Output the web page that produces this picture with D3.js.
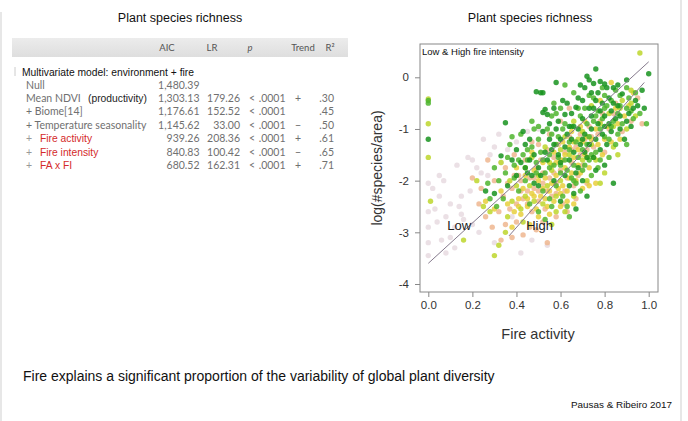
<!DOCTYPE html>
<html><head><meta charset="utf-8">
<script src="https://cdn.jsdelivr.net/npm/d3@7"></script>
<style>body{margin:0;background:#fff}svg{display:block}</style>
</head><body>
<script>
// ---------------- DATA ----------------
const panelTitles = ["Plant species richness", "Plant species richness"];
const tableHeader = ["AIC", "LR", "p", "Trend", "R²"];
const tableSubtitle = "Multivariate model: environment + fire";
const rowPrefix = ["", "", "+ ", "+ ", "+ ", "+ ", "+ "];
const rowLabels = ["Null", "Mean NDVI", "Biome[14]", "Temperature seasonality", "Fire activity", "Fire intensity", "FA x FI"];
const rowIsFire = [false, false, false, false, true, true, true];
const aicValues = ["1,480.39", "1,303.13", "1,176.61", "1,145.62", "939.26", "840.83", "680.52"];
const lrValues = ["", "179.26", "152.52", "33.00", "208.36", "100.42", "162.31"];
const pValues = ["", ".0001", ".0001", ".0001", ".0001", ".0001", ".0001"];
const trendValues = ["", "+", "", "−", "+", "−", "+"];
const r2Values = ["", ".30", ".45", ".50", ".61", ".65", ".71"];
const ndviNote = "(productivity)";

const xTicks = [0, 0.2, 0.4, 0.6, 0.8, 1.0];
const yTicks = [-4, -3, -2, -1, 0];
const xLabel = "Fire activity";
const yLabel = "log(#species/area)";
const plotTitle = "Low & High fire intensity";
const footnote = "Fire explains a significant proportion of the variability of global plant diversity";
const source = "Pausas & Ribeiro 2017";

// regression lines [x1,y1,x2,y2]
const lowLine = [0.0, -3.6, 1.0, 0.3];
const highLine = [0.366, -3.07, 0.98, -0.1];
const lineLabels = [{t:"Low", x:0.14, y:-2.85}, {t:"High", x:0.505, y:-2.85}];

// points [fire activity, log richness] by colour group
const palePts = [[0.0,-2.05],[0.0,-2.9],[0.0,-3.2],[0.0,-3.45],[0.0,-2.6],[0.02,-2.15],[0.03,-2.55],[0.04,-2.8],[0.06,-3.15],[0.05,-2.3],[0.08,-2.7],[0.1,-2.45],[0.12,-2.9],[0.14,-2.5],[0.15,-2.65],[0.16,-2.75],[0.18,-1.55],[0.2,-1.6],[0.22,-1.75],[0.19,-2.2],[0.24,-1.85],[0.25,-1.2],[0.28,-1.5],[0.3,-1.35],[0.33,-1.65],[0.36,-1.4],[0.15,-2.3],[0.12,-3.3],[0.1,-3.1],[0.08,-3.4],[0.42,-3.4],[0.27,-1.9],[0.2,-2.85],[0.05,-1.9],[0.4,-1.25],[0.45,-1.05],[0.5,-1.0],[0.23,-3.0],[0.3,-3.2],[0.13,-1.7],[0.32,-1.1],[0.38,-2.7],[0.47,-3.15],[0.54,-3.25],[0.07,-2.0]];
const salmonPts = [[0.2,-1.95],[0.24,-2.15],[0.27,-1.6],[0.3,-2.0],[0.32,-2.6],[0.34,-2.3],[0.35,-1.75],[0.37,-2.55],[0.38,-2.15],[0.39,-1.5],[0.4,-2.45],[0.41,-1.9],[0.42,-2.0],[0.43,-2.35],[0.44,-1.6],[0.45,-2.2],[0.46,-1.95],[0.47,-2.6],[0.48,-2.15],[0.49,-1.75],[0.5,-2.4],[0.51,-1.6],[0.52,-2.05],[0.53,-2.55],[0.54,-1.4],[0.55,-1.95],[0.56,-2.3],[0.57,-1.55],[0.58,-2.05],[0.59,-1.3],[0.6,-1.8],[0.61,-2.45],[0.62,-1.45],[0.63,-1.95],[0.64,-1.15],[0.65,-1.65],[0.66,-2.1],[0.67,-1.35],[0.68,-1.9],[0.69,-1.1],[0.7,-1.7],[0.72,-1.4],[0.73,-0.95],[0.75,-1.35],[0.77,-1.1],[0.79,-0.7],[0.8,-1.45],[0.82,-1.0],[0.85,-0.5],[0.88,-1.05],[0.92,-0.85],[0.95,-0.4],[0.97,-0.9],[0.46,-2.9],[0.49,-2.95],[0.52,-2.8],[0.43,-3.05],[0.38,-3.1],[0.33,-3.15],[0.29,-2.9],[0.26,-2.7],[0.23,-2.45],[0.5,-1.3],[0.47,-1.25],[0.55,-1.1],[0.6,-0.85],[0.64,-0.6],[0.58,-2.7],[0.54,-3.2],[0.35,-2.85],[0.62,-2.2],[0.72,-2.05],[0.67,-2.35],
  [0.45,-2.45],[0.5,-2.2],[0.54,-2.2],[0.58,-2.25],[0.61,-1.6],[0.65,-1.4],[0.69,-1.5],[0.71,-1.2],[0.74,-1.15],[0.57,-1.85],[0.52,-1.85],[0.48,-1.95],[0.42,-2.2],[0.39,-1.9],[0.36,-2.05],[0.78,-0.85],[0.84,-0.7],[0.63,-2.6],[0.4,-2.8]];
const yellowPts = [[0.26,-2.4],[0.3,-2.55],[0.33,-2.2],[0.36,-2.45],[0.39,-2.6],[0.41,-2.35],[0.43,-2.15],[0.45,-2.5],[0.47,-2.25],[0.49,-2.55],[0.5,-2.0],[0.51,-2.3],[0.53,-1.95],[0.54,-2.5],[0.55,-2.2],[0.56,-1.7],[0.57,-2.4],[0.58,-1.9],[0.59,-2.15],[0.6,-1.6],[0.61,-2.1],[0.62,-1.75],[0.63,-2.2],[0.64,-1.35],[0.65,-1.85],[0.66,-1.55],[0.67,-2.0],[0.68,-1.4],[0.69,-1.85],[0.7,-1.25],[0.71,-1.5],[0.72,-1.15],[0.73,-1.75],[0.74,-1.2],[0.75,-1.55],[0.76,-1.0],[0.77,-1.3],[0.79,-1.5],[0.81,-0.95],[0.83,-1.25],[0.85,-0.6],[0.87,-1.2],[0.89,-0.75],[0.91,-0.55],[0.93,-0.3],[0.83,-0.1],[0.78,-0.45],[0.52,-1.65],[0.48,-1.8],[0.44,-1.9],[0.4,-1.75],[0.55,-2.65],[0.6,-2.5],[0.63,-2.4],[0.66,-2.45],[0.7,-2.15],[0.73,-2.1],[0.76,-2.05],[0.5,-2.7],[0.46,-2.85],[0.42,-2.65],[0.57,-1.45],[0.61,-1.25],[0.65,-1.05],[0.69,-0.95],[0.38,-2.9],[0.47,-1.45],[0.71,-0.85],
  [0.48,-2.3],[0.52,-2.15],[0.56,-2.05],[0.6,-2.25],[0.64,-1.95],[0.68,-1.7],[0.72,-1.55],[0.58,-1.65],[0.62,-1.5],[0.66,-1.25],[0.53,-2.35],[0.45,-2.35],[0.41,-2.5],[0.8,-1.2],[0.86,-0.9]];
const yellowGreenPts = [[0.0,-0.42],[0.0,-0.9],[0.0,-1.55],[0.01,-2.4],[0.16,-3.15],[0.3,-3.45],[0.32,-3.25],[0.35,-3.0],[0.22,-2.0],[0.25,-2.5],[0.28,-2.6],[0.36,-2.7],[0.38,-2.4],[0.4,-2.1],[0.42,-2.55],[0.44,-2.3],[0.46,-2.1],[0.48,-2.4],[0.5,-1.9],[0.52,-2.45],[0.54,-2.1],[0.56,-1.8],[0.58,-2.3],[0.6,-2.0],[0.62,-2.6],[0.64,-1.5],[0.66,-2.3],[0.68,-1.2],[0.7,-1.6],[0.72,-2.0],[0.74,-1.3],[0.76,-1.6],[0.78,-0.9],[0.8,-1.85],[0.82,-0.7],[0.84,-0.95],[0.86,-1.5],[0.88,-0.45],[0.9,-1.0],[0.92,-0.5],[0.94,-0.75],[0.96,0.47],[0.92,-0.25],[0.87,-0.6],[0.44,-1.75],[0.47,-1.55],[0.53,-1.35],[0.55,-1.65],[0.6,-1.4],[0.62,-1.15],[0.66,-0.85],[0.7,-1.05],[0.74,-0.55],[0.33,-1.65],[0.37,-2.0],[0.56,-2.85],[0.58,-2.6],[0.84,-1.35],[0.78,-2.05],[0.43,-2.8]];
const greenPts = [[0.3,-1.75],[0.32,-2.0],[0.35,-1.85],[0.37,-1.3],[0.39,-1.7],[0.41,-2.2],[0.43,-1.5],[0.45,-1.6],[0.47,-1.35],[0.49,-1.65],[0.5,-1.2],[0.51,-1.45],[0.53,-1.85],[0.55,-1.5],[0.56,-1.1],[0.57,-1.7],[0.58,-1.3],[0.59,-1.55],[0.61,-1.0],[0.62,-1.6],[0.63,-1.8],[0.64,-1.4],[0.65,-0.95],[0.66,-1.7],[0.67,-1.25],[0.68,-1.55],[0.69,-0.75],[0.7,-1.4],[0.71,-1.7],[0.72,-0.9],[0.73,-1.15],[0.74,-1.5],[0.75,-0.85],[0.76,-1.45],[0.77,-0.65],[0.78,-1.0],[0.79,-0.8],[0.8,-1.15],[0.81,-0.55],[0.82,-1.2],[0.83,-0.45],[0.84,-0.85],[0.85,-1.3],[0.86,-0.7],[0.87,-0.35],[0.88,-0.9],[0.9,-0.6],[0.91,-0.4],[0.93,-0.8],[0.94,-0.3],[0.96,-0.7],[0.99,-0.9],[0.52,-2.2],[0.55,-2.35],[0.58,-2.1],[0.61,-2.3],[0.63,-2.5],[0.65,-1.95],[0.69,-2.2],[0.6,-0.6],[0.56,-0.75],[0.66,-0.3],[0.73,-0.35],[0.79,-0.2],[0.62,-0.15],[0.42,-1.1],[0.38,-1.15],[0.5,-0.95],[0.47,-0.85],[0.54,-1.0],[0.57,-0.5],[0.71,-0.6],[0.75,-0.4],[0.8,-0.35],[0.0,-0.45],[0.0,-0.5],[0.46,-2.45],[0.5,-2.6],[0.53,-2.75],[0.27,-2.05],[0.34,-2.35],[0.44,-2.0],[0.48,-1.0],[0.6,-1.85],[0.67,-2.05],[0.74,-1.9],[0.78,-1.6],[0.82,-1.55],[0.86,-1.1],[0.9,-1.3],[0.85,-0.25],[0.9,-0.2],[0.77,-1.75],[0.56,-2.5],[0.64,-2.7],[0.59,-1.15],[0.45,-1.4],[0.39,-1.95],[0.31,-2.5],[0.28,-2.35],
  [0.58,-0.7],[0.62,-0.9],[0.68,-0.6],[0.72,-1.3],[0.76,-0.75],[0.8,-0.6],[0.83,-0.95],[0.87,-0.55],[0.92,-0.65],[0.64,-1.25],[0.6,-1.7],[0.55,-1.75],[0.52,-1.6],[0.49,-1.85],[0.41,-1.6],[0.36,-1.55],[0.66,-2.0],[0.7,-1.8],[0.73,-1.6]];
const darkGreenPts = [[0.49,-0.28],[0.51,-0.3],[0.53,-0.62],[0.54,-0.72],[0.52,-0.68],[0.58,-0.1],[0.62,-0.72],[0.64,-0.95],[0.67,-0.58],[0.7,-0.45],[0.71,-0.2],[0.72,0.02],[0.73,-0.05],[0.75,-0.12],[0.76,0.16],[0.78,-0.08],[0.8,-0.13],[0.84,-0.2],[0.86,-0.15],[0.9,-0.05],[0.88,-0.32],[0.82,-0.4],[0.79,-0.5],[0.75,-0.6],[0.74,-0.75],[0.77,-0.9],[0.8,-0.75],[0.83,-0.65],[0.85,-0.8],[0.87,-1.0],[0.9,-0.85],[0.93,-0.6],[0.95,-0.55],[0.98,-0.6],[1.0,0.07],[0.97,-0.25],[0.35,-0.88],[0.33,-1.52],[0.38,-1.6],[0.4,-1.4],[0.42,-1.65],[0.44,-1.3],[0.46,-1.2],[0.48,-1.5],[0.45,-1.85],[0.47,-1.9],[0.5,-1.75],[0.52,-1.05],[0.55,-1.2],[0.56,-1.4],[0.58,-1.0],[0.6,-1.2],[0.62,-1.35],[0.63,-1.1],[0.65,-1.2],[0.66,-1.45],[0.68,-1.0],[0.69,-1.3],[0.7,-0.8],[0.71,-1.1],[0.72,-1.55],[0.73,-1.3],[0.74,-1.0],[0.76,-1.2],[0.78,-1.4],[0.79,-1.1],[0.81,-1.3],[0.83,-1.05],[0.6,-1.65],[0.62,-1.9],[0.64,-2.1],[0.66,-2.25],[0.68,-1.75],[0.7,-2.0],[0.72,-2.3],[0.76,-1.8],[0.8,-1.7],[0.84,-2.05],[0.57,-2.0],[0.54,-1.6],[0.5,-2.1],[0.48,-2.05],[0.3,-2.25],[0.26,-2.2],[0.55,-0.9],[0.59,-0.85],[0.65,-0.7],[0.68,-0.4],[0.63,-0.5],[0.69,-0.15],[0.77,-0.3],[0.82,-0.9],[0.86,-0.55],[0.89,-1.2],[0.92,-0.95],[0.6,-2.4],[0.67,-2.55],[0.43,-1.05],[0.4,-1.9],[0.36,-2.1],[0.0,-1.2],
  [0.61,-0.45],[0.66,-0.95],[0.7,-1.2],[0.73,-0.6],[0.76,-0.45],[0.78,-0.65],[0.81,-0.2],[0.84,-0.5],[0.87,-0.75],[0.91,-0.7],[0.94,-0.45],[0.57,-1.3],[0.59,-1.5],[0.64,-1.6],[0.67,-1.85],[0.71,-1.45],[0.75,-1.55],[0.53,-1.45],[0.51,-1.9],[0.46,-1.6],[0.44,-1.75],[0.52,-0.3],[0.57,-0.6],[0.74,-0.3],[0.8,-0.95]];

const groups = [
  {pts: palePts, color: "#e6d8de", op: 0.8},
  {pts: salmonPts, color: "#efb68f", op: 0.85},
  {pts: yellowPts, color: "#e8cf3c", op: 0.85},
  {pts: yellowGreenPts, color: "#bdd62c", op: 0.85},
  {pts: greenPts, color: "#4fb52e", op: 0.85},
  {pts: darkGreenPts, color: "#17931f", op: 0.85}
];

// ---------------- DRAW ----------------
const W = 688, H = 421;
const svg = d3.select("body").append("svg").attr("width", W).attr("height", H);
const sans = "Liberation Sans, Arial, Helvetica, sans-serif";
const lato = "Lato, Liberation Sans, sans-serif";

// slide borders
svg.append("line").attr("x1", 1).attr("x2", 1).attr("y1", 12).attr("y2", H).attr("stroke", "#cfcfcf");
svg.append("line").attr("x1", 681).attr("x2", 681).attr("y1", 0).attr("y2", H).attr("stroke", "#cfcfcf");

// panel titles
svg.append("text").attr("x", 180).attr("y", 22).attr("text-anchor", "middle")
  .attr("font-family", sans).attr("font-size", 12.5).attr("fill", "#111").text(panelTitles[0]);
svg.append("text").attr("x", 530).attr("y", 22).attr("text-anchor", "middle")
  .attr("font-family", sans).attr("font-size", 12.5).attr("fill", "#111").text(panelTitles[1]);

// ---- table ----
const tbl = svg.append("g");
const grad = svg.append("defs").append("linearGradient").attr("id", "hdr").attr("x1", 0).attr("x2", 0).attr("y1", 0).attr("y2", 1);
grad.append("stop").attr("offset", 0).attr("stop-color", "#ececec");
grad.append("stop").attr("offset", 1).attr("stop-color", "#dedede");
tbl.append("rect").attr("x", 12).attr("y", 38).attr("width", 336).attr("height", 19).attr("fill", "url(#hdr)");
const hdrX = [167, 212, 250, 303, 330];
tableHeader.forEach((h, i) => {
  tbl.append("text").attr("x", hdrX[i]).attr("y", 51).attr("text-anchor", "middle")
    .attr("font-family", lato).attr("font-size", 9.5).attr("fill", "#555")
    .attr("font-style", i === 2 ? "italic" : "normal").text(h);
});
tbl.append("line").attr("x1", 15).attr("x2", 15).attr("y1", 67).attr("y2", 76).attr("stroke", "#ccc");
tbl.append("text").attr("x", 22).attr("y", 76).attr("font-family", sans).attr("font-size", 10.3)
  .attr("fill", "#111").text(tableSubtitle);

const rowY = d3.scaleLinear().domain([0, 6]).range([88.5, 169]);
const grey = "#707070";
rowLabels.forEach((lab, i) => {
  const y = rowY(i);
  const t = (x, s, opts = {}) => tbl.append("text").attr("x", x).attr("y", y)
    .attr("font-family", opts.font || lato).attr("font-size", opts.size || 10.5)
    .attr("fill", opts.fill || grey).attr("text-anchor", opts.anchor || "start").text(s);
  if (rowIsFire[i]) {
    t(26, "+", {fill: "#999"});
    t(40, lab, {font: sans, fill: "#d42a2a", size: 10.3});
  } else {
    t(26, rowPrefix[i] + lab);
  }
  if (i === 1) t(88, ndviNote, {font: sans, fill: "#222", size: 10.3});
  t(199.5, aicValues[i], {anchor: "end"});
  if (lrValues[i]) t(240, lrValues[i], {anchor: "end"});
  if (pValues[i]) { t(252, "<", {anchor: "middle"}); t(285.5, pValues[i], {anchor: "end"}); }
  if (trendValues[i]) t(298, trendValues[i], {anchor: "middle"});
  if (r2Values[i]) t(334, r2Values[i], {anchor: "end"});
});

// ---- scatter ----
const x = d3.scaleLinear().domain([0, 1]).range([428.3, 648.7]);
const y = d3.scaleLinear().domain([-4, 0]).range([284, 77.3]);
const box = {l: 420, t: 44, r: 658, b: 292};

const pg = svg.append("g");
groups.forEach(g => {
  pg.selectAll(null).data(g.pts).enter().append("circle")
    .attr("cx", d => x(d[0])).attr("cy", d => y(d[1])).attr("r", 2.7)
    .attr("fill", g.color).attr("fill-opacity", g.op);
});

[lowLine, highLine].forEach(l => {
  svg.append("line").attr("x1", x(l[0])).attr("y1", y(l[1])).attr("x2", x(l[2])).attr("y2", y(l[3]))
    .attr("stroke", "#857a8c").attr("stroke-width", 1);
});
lineLabels.forEach(d => {
  svg.append("text").attr("x", x(d.x)).attr("y", y(d.y) + 5).attr("text-anchor", "middle")
    .attr("font-family", sans).attr("font-size", 13).attr("fill", "#222").text(d.t);
});

svg.append("rect").attr("x", box.l).attr("y", box.t).attr("width", box.r - box.l).attr("height", box.b - box.t)
  .attr("fill", "none").attr("stroke", "#888").attr("stroke-width", 1);
svg.append("text").attr("x", 422).attr("y", 55).attr("font-family", sans).attr("font-size", 9.5)
  .attr("fill", "#111").text(plotTitle);

// axes
const xAxis = d3.axisBottom(x).tickValues(xTicks).tickFormat(d3.format(".1f")).tickSize(5).tickPadding(4);
const gx = svg.append("g").attr("transform", `translate(0,${box.b})`).call(xAxis);
gx.select(".domain").remove();
const yAxis = d3.axisLeft(y).tickValues(yTicks).tickFormat(d => d === 0 ? "0" : d3.format("d")(d)).tickSize(5).tickPadding(6);
const gy = svg.append("g").attr("transform", `translate(${box.l},0)`).call(yAxis);
gy.select(".domain").remove();
[gx, gy].forEach(g => {
  g.selectAll("line").attr("stroke", "#888");
  g.selectAll("text").attr("font-family", sans).attr("font-size", 11.5).attr("fill", "#333");
});
gy.selectAll("text").text(d => d < 0 ? "-" + Math.abs(d) : d);

svg.append("text").attr("x", 538).attr("y", 339).attr("text-anchor", "middle")
  .attr("font-family", sans).attr("font-size", 14.5).attr("fill", "#333").text(xLabel);
svg.append("text").attr("transform", "translate(382,168) rotate(-90)").attr("text-anchor", "middle")
  .attr("font-family", sans).attr("font-size", 14).attr("fill", "#333").text(yLabel);

// footnotes
svg.append("text").attr("x", 23).attr("y", 381).attr("font-family", sans).attr("font-size", 14)
  .attr("fill", "#111").text(footnote);
svg.append("text").attr("x", 672).attr("y", 408).attr("text-anchor", "end").attr("font-family", sans)
  .attr("font-size", 9.9).attr("fill", "#111").text(source);
</script>
</body></html>
